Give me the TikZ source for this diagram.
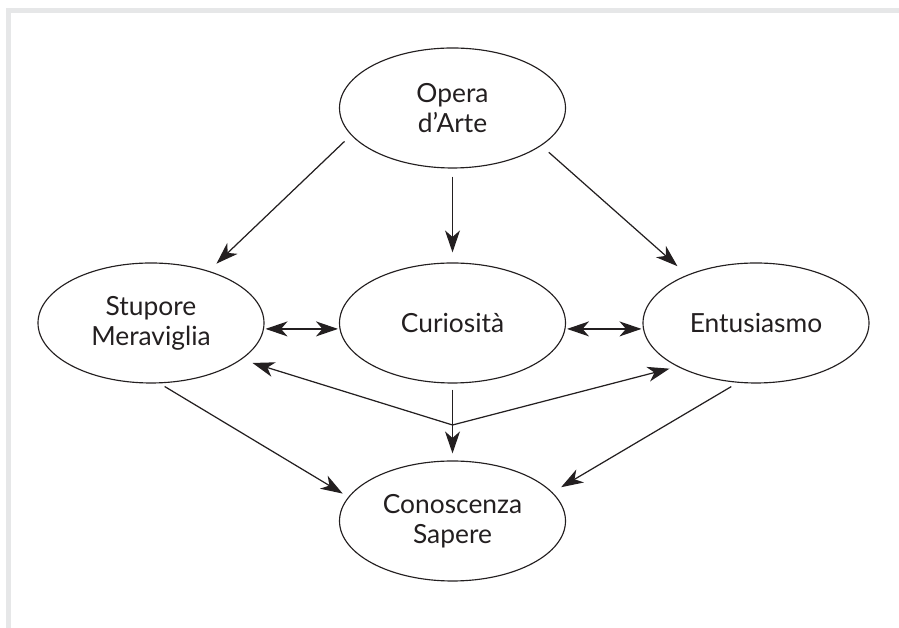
\documentclass[tikz,border=0pt]{standalone}
\usepackage{fontspec}
\setmainfont{Lato}
\usepackage{xcolor}
\usepackage{tikz}
\usetikzlibrary{arrows.meta}
\usetikzlibrary{shapes.geometric}
\definecolor{ink}{HTML}{231F20}
\definecolor{framegray}{HTML}{E6E7E8}
\tikzset{
idea/.style = { ellipse, draw = ink, line width = 0.65pt, minimum width = 4.52cm, minimum height = 2.4cm, inner sep = 0pt, align = center, text = ink, font = \fontsize{15}{17}\selectfont },
flow/.style = { draw = ink, line width = 0.7pt, -{Stealth[length = 0.44cm, width = 0.3cm, inset = 0.13cm]} },
both flow/.style = { flow, {Stealth[length = 0.44cm, width = 0.3cm, inset = 0.13cm]}-{Stealth[length = 0.44cm, width = 0.3cm, inset = 0.13cm]}, shorten < = 0.03cm, shorten > = 0.03cm },
}

\begin{document}
\begin{tikzpicture}
    \useasboundingbox (0, 0) rectangle (17.98, 12.56);
    \draw[framegray, line width = 0.1cm] (0.17, 0) -- (0.17, 12.35) -- (17.98, 12.35);
    \node[idea] (opera) at (9.05, 10.40) {Opera\\d'Arte};
    \node[idea] (stupore) at (3.02, 6.10) {Stupore\\Meraviglia};
    \node[idea] (curiosita) at (9.05, 6.10) {Curiosità};
    \node[idea] (entusiasmo) at (15.12, 6.10) {Entusiasmo};
    \node[idea] (conoscenza) at (9.05, 2.14) {Conoscenza\\Sapere};
    \coordinate (split) at (9.05, 4.06);
    % from the work of art
    \draw[flow, shorten < = 0.18cm, shorten > = 0.21cm] (opera.195.5) -- (stupore.42);
    \draw[flow, shorten < = 0.16cm, shorten > = 0.2cm] (opera.south) -- (curiosita.north);
    \draw[flow, shorten < = 0.2cm, shorten > = 0.26cm] (opera.337) -- (entusiasmo.145.7);
    % middle row
    \draw[both flow] (stupore.357) -- (curiosita.183);
    \draw[both flow] (curiosita.357) -- (entusiasmo.183);
    % curiosity splits
    \draw[draw = ink, line width = 0.7pt, shorten < = 0.12cm] (curiosita.south) -- (split);
    \draw[flow, shorten > = 0.14cm] (split) -- (conoscenza.north);
    \draw[flow, shorten > = 0.23cm] (split) -- (stupore.338.7);
    \draw[flow, shorten > = 0.16cm] (split) -- (entusiasmo.209.7);
    % towards knowledge
    \draw[flow, shorten < = 0.12cm, shorten > = 0.13cm] (stupore.278.5) -- (conoscenza.167.2);
    \draw[flow, shorten < = 0.15cm, shorten > = 0.2cm] (entusiasmo.253.5) -- (conoscenza.16.3);
\end{tikzpicture}
\end{document}
